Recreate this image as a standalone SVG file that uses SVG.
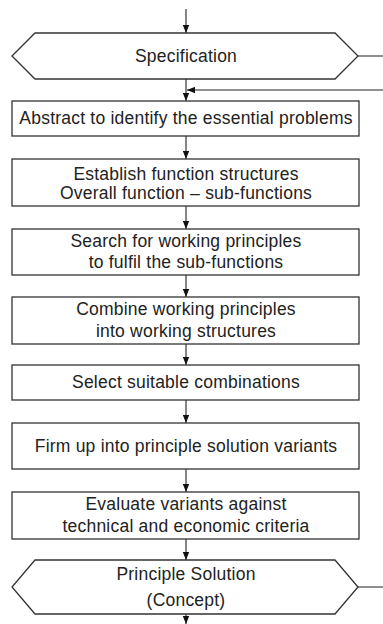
<svg xmlns="http://www.w3.org/2000/svg" width="383" height="624" viewBox="0 0 383 624">
<defs>
<marker id="ah" markerWidth="8" markerHeight="7" refX="8" refY="3.5" orient="auto" markerUnits="userSpaceOnUse">
<path d="M0,0.3 L8,3.5 L0,6.7 z" fill="#111"/>
</marker>
</defs>
<style>
.box{fill:#fff;stroke:#333;stroke-width:1.3}
.t{font-family:"Liberation Sans",Arial,sans-serif;font-size:17.5px;letter-spacing:0.22px;fill:#222;text-anchor:middle}
.c{fill:none;stroke:#222;stroke-width:1.1}
</style>
<rect width="383" height="624" fill="#fff"/>
<g id="connectors">
<path class="c" d="M186,9 V33" marker-end="url(#ah)"/>
<path class="c" d="M186,79 V101" marker-end="url(#ah)"/>
<path class="c" d="M383,90 H187" marker-end="url(#ah)"/>
<path class="c" d="M358,56 H391" marker-end="url(#ah)"/>
<path class="c" d="M186,136 V159" marker-end="url(#ah)"/>
<path class="c" d="M186,206 V229" marker-end="url(#ah)"/>
<path class="c" d="M186,275 V297" marker-end="url(#ah)"/>
<path class="c" d="M186,344 V365" marker-end="url(#ah)"/>
<path class="c" d="M186,400 V423" marker-end="url(#ah)"/>
<path class="c" d="M186,469 V492" marker-end="url(#ah)"/>
<path class="c" d="M186,539 V560" marker-end="url(#ah)"/>
<path class="c" d="M358,587 H391" marker-end="url(#ah)"/>
<path class="c" d="M186,614 V624" marker-end="url(#ah)"/>
</g>
<g id="spec">
<polygon class="box" points="35,33 335,33 358,56 335,79 35,79 12,56"/>
<text class="t" x="186" y="62">Specification</text>
</g>
<g id="abstract">
<rect class="box" x="12" y="101" width="347" height="35"/>
<text class="t" x="186" y="124">Abstract to identify the essential problems</text>
</g>
<g id="establish">
<rect class="box" x="12" y="159" width="347" height="47"/>
<text class="t" x="186" y="180">Establish function structures</text>
<text class="t" x="186" y="199">Overall function – sub-functions</text>
</g>
<g id="search">
<rect class="box" x="12" y="229" width="347" height="46"/>
<text class="t" x="186" y="247">Search for working principles</text>
<text class="t" x="186" y="268">to fulfil the sub-functions</text>
</g>
<g id="combine">
<rect class="box" x="12" y="297" width="347" height="47"/>
<text class="t" x="186" y="315">Combine working principles</text>
<text class="t" x="186" y="337">into working structures</text>
</g>
<g id="select">
<rect class="box" x="12" y="365" width="347" height="35"/>
<text class="t" x="186" y="388">Select suitable combinations</text>
</g>
<g id="firm">
<rect class="box" x="12" y="423" width="347" height="46"/>
<text class="t" x="186" y="452">Firm up into principle solution variants</text>
</g>
<g id="evaluate">
<rect class="box" x="12" y="492" width="347" height="47"/>
<text class="t" x="186" y="510">Evaluate variants against</text>
<text class="t" x="186" y="532">technical and economic criteria</text>
</g>
<g id="solution">
<polygon class="box" points="35,560 335,560 358,587 335,614 35,614 12,587"/>
<text class="t" x="186" y="580">Principle Solution</text>
<text class="t" x="186" y="606">(Concept)</text>
</g>
</svg>
